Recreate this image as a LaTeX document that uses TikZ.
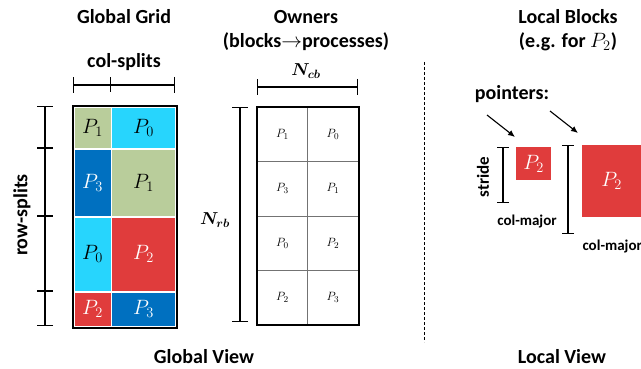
\documentclass[tikz,border=0pt]{standalone}
\usepackage{amsmath}
\usepackage{fontspec}
\setmainfont{Carlito}
\usetikzlibrary{arrows.meta}

\definecolor{Pzero}{HTML}{27D5FD}
\definecolor{Pone}{HTML}{B9CD9B}
\definecolor{Ptwo}{HTML}{E03C3C}
\definecolor{Pthree}{HTML}{0070C0}

\begin{document}
\begin{tikzpicture}[x=1pt, y=-1pt,
  title/.style={font=\fontsize{20}{22}\selectfont\bfseries},
  cell/.style={draw=white, line width=1.6, anchor=north west, inner sep=0pt, font=\fontsize{20}{20}\selectfont},
  owner/.style={draw=black!55, line width=0.8, anchor=north west, inner sep=0pt, font=\fontsize{13}{13}\selectfont},
  dimbar/.style={line width=1.1, {Bar[width=16pt]}-{Bar[width=16pt]}},
  tick/.style={line width=1.1}]

 \clip (0,0) rectangle (641,369);
 \useasboundingbox (0,0) rectangle (641,369);

 %%%%%%%%%% Titles %%%%%%%%%%
 \node[title] (gtitle) at (124,17) {Global Grid};
 \node[title] (otitle) at (306,17) {Owners};
 \node[title] (otitle2) at (306,42) {(blocks$\rightarrow$processes)};
 \node[title] (ltitle) at (568,17) {Local Blocks};
 \node[title] (ltitle2) at (568,42) {(e.g. for $P_2$)};
 \node[title] (gview) at (204,357) {Global View};
 \node[title] (lview) at (562,357) {Local View};

 %%%%%%%%%% Global grid %%%%%%%%%%
 \node[cell, fill=Pone, minimum width=37.5pt, minimum height=42pt] (g11) at (73,106) {$P_1$};
 \node[cell, fill=Pzero, minimum width=64.5pt, minimum height=42pt] (g12) at (110.5,106) {$P_0$};
 \node[cell, fill=Pthree, text=white, minimum width=37.5pt, minimum height=68pt] (g21) at (73,148) {$P_3$};
 \node[cell, fill=Pone, minimum width=64.5pt, minimum height=68pt] (g22) at (110.5,148) {$P_1$};
 \node[cell, fill=Pzero, minimum width=37.5pt, minimum height=75pt] (g31) at (73,216) {$P_0$};
 \node[cell, fill=Ptwo, text=white, minimum width=64.5pt, minimum height=75pt] (g32) at (110.5,216) {$P_2$};
 \node[cell, fill=Ptwo, text=white, minimum width=37.5pt, minimum height=35pt] (g41) at (73,291) {$P_2$};
 \node[cell, fill=Pthree, text=white, minimum width=64.5pt, minimum height=35pt] (g42) at (110.5,291) {$P_3$};
 \draw[line width=2] (g11.north west) rectangle (g42.south east);

 % col-splits
 \node[title] (csplit) at (124,62) {col-splits};
 \coordinate (cs0) at (73,85);
 \coordinate (cs1) at (110.5,85);
 \coordinate (cs2) at (175,85);
 \draw[dimbar] (cs0) -- (cs2);
 \draw[tick] (cs1) ++(0,-7.5) -- ++(0,15);

 % row-splits
 \node[title, rotate=90] (rsplit) at (22,215) {row-splits};
 \coordinate (rs0) at (45,106);
 \coordinate (rs1) at (45,148);
 \coordinate (rs2) at (45,216);
 \coordinate (rs3) at (45,291);
 \coordinate (rs4) at (45,326);
 \draw[dimbar] (rs0) -- (rs4);
 \draw[tick] (rs1) ++(-8,0) -- ++(16,0);
 \draw[tick] (rs2) ++(-8,0) -- ++(16,0);
 \draw[tick] (rs3) ++(-8,0) -- ++(16,0);

 %%%%%%%%%% Owners %%%%%%%%%%
 \node[owner, minimum width=50pt, minimum height=54.25pt] (o11) at (257,107) {$P_1$};
 \node[owner, minimum width=51pt, minimum height=54.25pt] (o12) at (307,107) {$P_0$};
 \node[owner, minimum width=50pt, minimum height=54.25pt] (o21) at (257,161.25) {$P_3$};
 \node[owner, minimum width=51pt, minimum height=54.25pt] (o22) at (307,161.25) {$P_1$};
 \node[owner, minimum width=50pt, minimum height=54.25pt] (o31) at (257,215.5) {$P_0$};
 \node[owner, minimum width=51pt, minimum height=54.25pt] (o32) at (307,215.5) {$P_2$};
 \node[owner, minimum width=50pt, minimum height=54.25pt] (o41) at (257,269.75) {$P_2$};
 \node[owner, minimum width=51pt, minimum height=54.25pt] (o42) at (307,269.75) {$P_3$};
 \draw[line width=2] (o11.north west) rectangle (o42.south east);

 % N_cb and N_rb
 \node[font=\fontsize{18}{18}\selectfont] (ncb) at (306,71) {$\boldsymbol{N_{cb}}$};
 \coordinate (ncb0) at (257,87);
 \coordinate (ncb1) at (358,87);
 \draw[dimbar] (ncb0) -- (ncb1);
 \node[font=\fontsize{18}{18}\selectfont] (nrb) at (215,220) {$\boldsymbol{N_{rb}}$};
 \coordinate (nrb0) at (240,107);
 \coordinate (nrb1) at (240,322);
 \draw[dimbar] (nrb0) -- (nrb1);

 %%%%%%%%%% Separator %%%%%%%%%%
 \coordinate (sep0) at (424,62);
 \coordinate (sep1) at (424,342);
 \draw[line width=0.8, dash pattern=on 3pt off 2pt] (sep0) -- (sep1);

 %%%%%%%%%% Local blocks %%%%%%%%%%
 \node[title] (ptrs) at (512,94) {pointers:};
 \node[fill=Ptwo, text=white, inner sep=0pt, anchor=north west, minimum width=35pt, minimum height=33pt, font=\fontsize{20}{20}\selectfont] (lb1) at (516,147) {$P_2$};
 \node[fill=Ptwo, text=white, inner sep=0pt, anchor=north west, minimum width=59pt, minimum height=72pt, font=\fontsize{20}{20}\selectfont] (lb2) at (582,145) {$P_2$};
 \fill[Ptwo] (lb2.north east) rectangle (645,217);

 % pointers
 \coordinate (pa0) at (487,115);
 \coordinate (pa1) at (515,137);
 \coordinate (pb0) at (550,111);
 \coordinate (pb1) at (578,133);
 \draw[line width=1.1, -{Latex[length=7pt, width=6pt]}] (pa0) -- (pa1);
 \draw[line width=1.1, -{Latex[length=7pt, width=6pt]}] (pb0) -- (pb1);

 % strides
 \node[rotate=90, font=\fontsize{17}{17}\selectfont\bfseries] (stride) at (483,177) {stride};
 \coordinate (st0) at (503,147);
 \coordinate (st1) at (503,203);
 \draw[dimbar, {Bar[width=12pt]}-{Bar[width=12pt]}] (st0) -- (st1);
 \node[font=\fontsize{15}{15}\selectfont\bfseries] (cm1) at (527,222) {col-major};
 \coordinate (sr0) at (568,145);
 \coordinate (sr1) at (568,234);
 \draw[dimbar, {Bar[width=12pt]}-{Bar[width=12pt]}] (sr0) -- (sr1);
 \node[font=\fontsize{15}{15}\selectfont\bfseries, anchor=west] (cm2) at (579,247) {col-major};

\end{tikzpicture}
\end{document}
